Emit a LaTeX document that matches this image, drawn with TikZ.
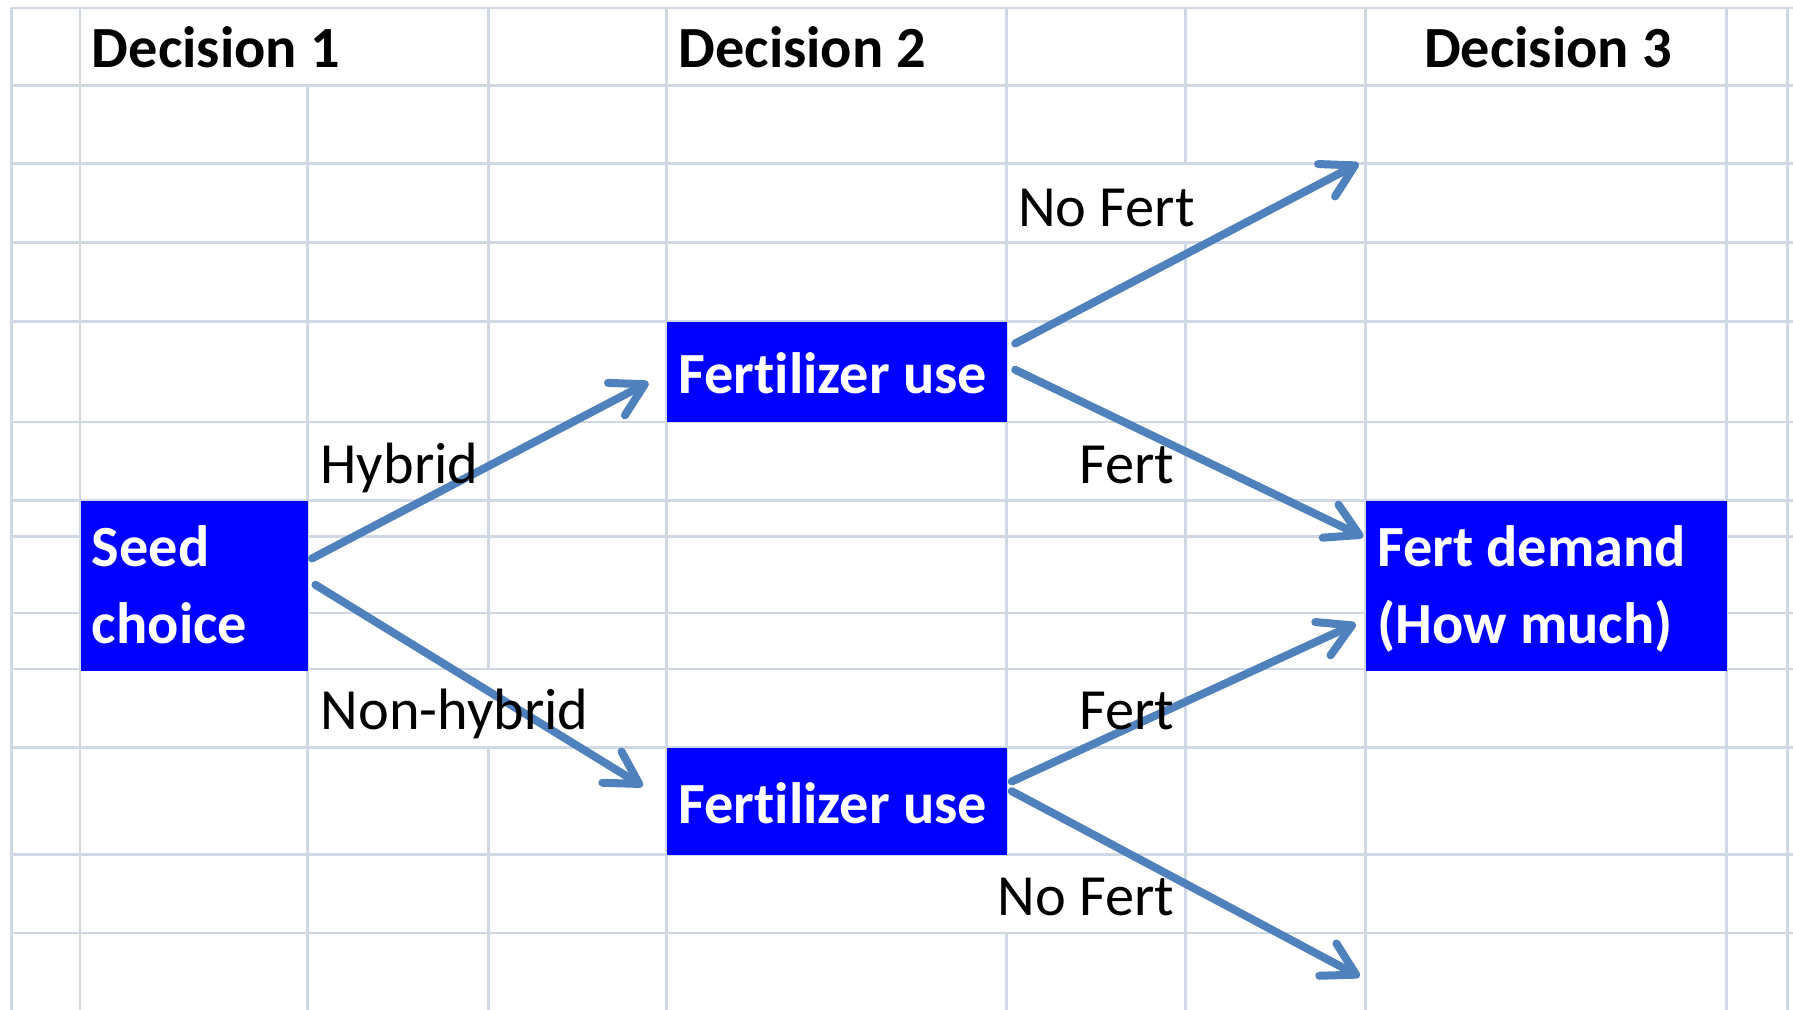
\documentclass[tikz,border=0pt]{standalone}
\usepackage{fontspec}
\setmainfont{Carlito}[Ligatures=NoCommon]
\usetikzlibrary{arrows.meta,calc}
\definecolor{gridc}{HTML}{D0D7E5}
\definecolor{arrc}{HTML}{4F81BD}
\definecolor{boxc}{HTML}{0000FF}
\begin{document}
\begin{tikzpicture}[x=0.5pt,y=-0.5pt,
  gridline/.style={draw=gridc,line width=1.2pt},
  box/.style={fill=boxc,draw=none,inner sep=0pt,anchor=north west},
  hdr/.style={font=\fontsize{25.5}{30}\selectfont\bfseries,anchor=base west,inner sep=0pt},
  btxt/.style={font=\fontsize{25.5}{30}\selectfont\bfseries,text=white,anchor=base west,inner sep=0pt},
  lbl/.style={font=\fontsize{25.5}{30}\selectfont,anchor=base west,inner sep=0pt},
  lblr/.style={lbl,anchor=base east},
  arr/.style={draw=arrc,line width=3.5pt,line cap=round,
    -{Straight Barb[length=14pt,width=16pt,line cap=round,line join=round]}}
]
\useasboundingbox (0,0) rectangle (1568,883);
\fill[white] (0,0) rectangle (1568,883);
% horizontal grid lines
\foreach \y in {7,75,143,212,281,369,438,469,536,585,654,747,816}
  \draw[gridline] (10,\y) -- (1568,\y);
% vertical grid lines
\foreach \x in {10,70,583,1194,1510,1563}
  \draw[gridline] (\x,7) -- (\x,883);
\draw[gridline] (269,75) -- (269,883);
\draw[gridline] (427,7) -- (427,585) (427,654) -- (427,883);
\draw[gridline] (880,7) -- (880,747) (880,816) -- (880,883);
\draw[gridline] (1037,7) -- (1037,143) (1037,212) -- (1037,883);

% boxes
\node[box,minimum width=99.5pt,minimum height=74pt] (seed) at (70,438) {};
\node[box,minimum width=148.5pt,minimum height=44pt] (fu1) at (583,281) {};
\node[box,minimum width=148.5pt,minimum height=46.5pt] (fu2) at (583,654) {};
\node[box,minimum width=158pt,minimum height=74pt] (fd) at (1194,438) {};

% headers
\node[hdr] (d1) at (80,59) {Decision 1};
\node[hdr] (d2) at (593,59) {Decision 2};
\node[hdr] (d3) at (1245,59) {Decision 3};

% box texts
\node[btxt] (t1) at (593,344) {Fertilizer use};
\node[btxt] (t2) at (593,720) {Fertilizer use};
\node[btxt] (t3) at (80,495) {Seed};
\node[btxt] (t4) at (80,563) {choice};
\node[btxt] (t5) at (1204,495) {Fert demand};
\node[btxt] (t6) at (1204,563) {(How much)};

% free ends
\coordinate (nf1) at (1188,143);
\coordinate (nf2) at (1189,854);

% arrows
\draw[arr] ($(seed.east)+(3,-24)$) -- ($(fu1.west)+(-16,9)$);
\draw[arr] ($(seed.east)+(6,-1)$) -- ($(fu2.west)+(-21,-13.5)$);
\draw[arr] ($(fu1.east)+(7,-25)$) -- (nf1);
\draw[arr] ($(fu1.east)+(7,-2)$) -- ($(fd.west)+(-2,-43)$);
\draw[arr] ($(fu2.east)+(4,-17.5)$) -- ($(fd.west)+(-8.5,33)$);
\draw[arr] ($(fu2.east)+(4,-9)$) -- (nf2);

% labels
\node[lbl] (l1) at (890,198) {No Fert};
\node[lbl] (l2) at (280,423) {Hybrid};
\node[lblr] (l3) at (1027,423) {Fert};
\node[lbl] (l4) at (280,638) {Non-hybrid};
\node[lblr] (l5) at (1027,638) {Fert};
\node[lblr] (l6) at (1027,801) {No Fert};
\end{tikzpicture}
\end{document}
